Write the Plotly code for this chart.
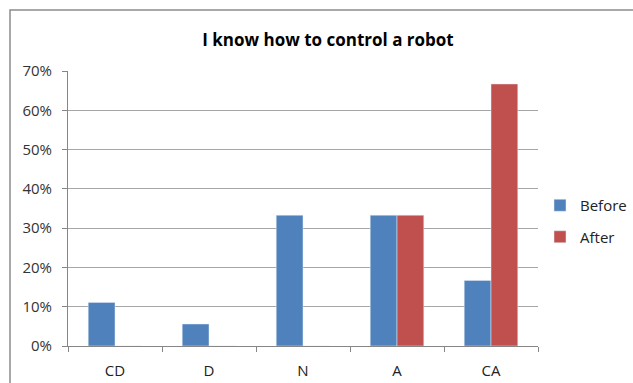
import plotly.graph_objects as go

categories = ["CD", "D", "N", "A", "CA"]
before = [0.111, 0.056, 0.333, 0.333, 0.167]
after = [0.0, 0.0, 0.0, 0.333, 0.667]
y_ticks = [0, 0.1, 0.2, 0.3, 0.4, 0.5, 0.6, 0.7]
y_tick_labels = ["0%", "10%", "20%", "30%", "40%", "50%", "60%", "70%"]

W, H = 633, 383
L, R, T, B = 68, 95, 71, 37
pw, ph = W - L - R, H - T - B

font_family = "'Open Sans', Lato, Arial, sans-serif"

fig = go.Figure()
fig.add_trace(go.Bar(x=categories, y=before, name="Before",
                     marker=dict(color="#4F81BD"), legendgroup="b"))
fig.add_trace(go.Bar(x=categories, y=after, name="After",
                     marker=dict(color="#C0504D"), legendgroup="a"))


# outer chart frame (pixel coordinates converted to paper units)
def px_x(x):
    return (x - L) / pw


def px_y(y):
    return (H - B - y) / ph


fig.add_shape(type="rect", xref="paper", yref="paper",
              x0=px_x(10), x1=px_x(700), y0=px_y(10), y1=px_y(420),
              line=dict(color="#8C8C8C", width=1.5), fillcolor="rgba(0,0,0,0)",
              layer="below")

fig.update_layout(
    width=W, height=H,
    margin=dict(l=L, r=R, t=T, b=B, autoexpand=False),
    paper_bgcolor="white", plot_bgcolor="white",
    font=dict(family=font_family, size=15, color="#333333"),
    title=dict(text="<b>I know how to control a robot</b>",
               x=328 / W, xanchor="center", y=1 - 40 / H, yanchor="middle",
               font=dict(size=17, color="#000000")),
    barmode="group", bargap=0.43, bargroupgap=0,
    showlegend=True,
    legend=dict(xref="container", yref="container",
                x=540 / W, xanchor="left", y=1 - 221 / H, yanchor="middle",
                font=dict(size=15, color="#222222"), tracegroupgap=9,
                itemwidth=30, bgcolor="rgba(0,0,0,0)"),
    xaxis=dict(showgrid=False, showline=True, linecolor="#868686", linewidth=1,
               ticks="outside", tickson="boundaries", ticklen=5,
               tickcolor="#868686", ticklabelstandoff=11,
               tickfont=dict(size=15, color="#222222")),
    yaxis=dict(range=[0, 0.7], tickvals=y_ticks, ticktext=y_tick_labels,
               showgrid=True, gridcolor="#A6A6A6", gridwidth=1,
               showline=True, linecolor="#868686", linewidth=1,
               ticks="outside", ticklen=5, tickcolor="#868686",
               ticklabelstandoff=7,
               tickfont=dict(size=15, color="#333333"), zeroline=False),
)

fig.write_html("out.html")
